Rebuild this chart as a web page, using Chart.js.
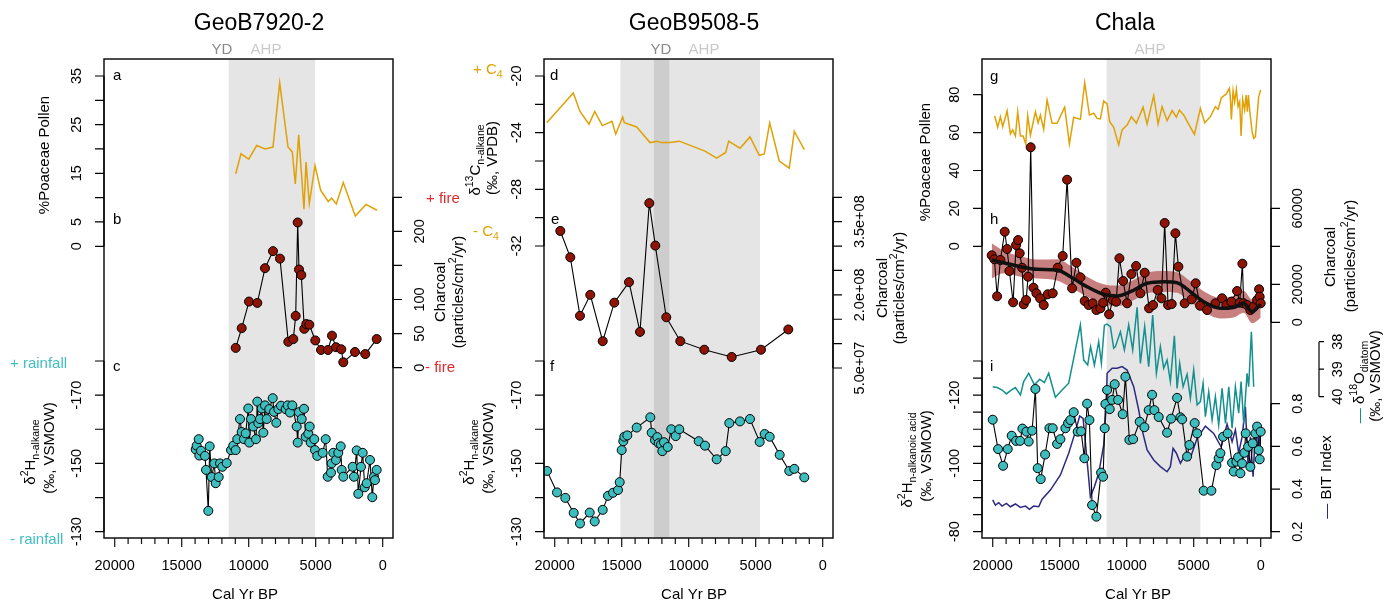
<!DOCTYPE html>
<html>
<head>
<meta charset="utf-8">
<script src="https://cdn.jsdelivr.net/npm/chart.js@4.4.1/dist/chart.umd.min.js"></script>
<style>
  body { margin: 0; background: #fff; }
  #wrap { position: relative; width: 1386px; height: 605px; }
  #wrap canvas { position: absolute; left: 0; top: 0; }
</style>
</head>
<body>
<div id="wrap">
  <canvas id="p1" width="1386" height="605"></canvas>
  <canvas id="p2" width="1386" height="605"></canvas>
  <canvas id="p3" width="1386" height="605"></canvas>
</div>
<script>
// ---- GeoB7920-2 ----
var ageA = [10970,10575,10000,9403,8784,8187,7687,7067,6746,6523,6269,5873,5724,5477,5052,4627,4060,3806,3463,2940,2045,1246,425];
var poaceaeA = [14.9,19.0,17.9,20.7,20.0,20.4,33.6,20.4,19.4,12.8,22.9,7.6,17.3,8.8,16.6,11.5,9.2,9.9,8.7,13.1,6.2,8.6,7.4];

var ageB = [10970,10523,9978,9358,8784,8187,7665,7045,6672,6493,6344,6246,6075,5851,5702,5477,5030,4605,4082,3784,3485,3090,2940,2067,1299,448];
var charcoalB = [29,58,97,95,146,171,160,38,42,76,213,144,136,57,64,63,40,26,26,47,30,27,8,23,20,42];

var ageC = [13956,13881,13732,13687,13560,13262,13187,13015,12911,12762,
  12568,12463,12239,12142,11970,11642,11321,11150,10970,10851,
  10650,10523,10351,10224,10030,9955,9828,9656,9455,9358,
  9284,9157,9030,8910,8784,8657,8463,8209,8112,7940,
  7791,7590,7239,7090,6918,6746,6418,6343,6246,6045,
  5873,5747,5552,5448,5373,5105,5052,4880,4478,4254,
  4105,3858,3806,3687,3485,3313,3134,3060,2940,2239,
  2142,1940,1821,1619,1493,1343,1194,948,776,649,
  575,448];
var d2hC = [-154.1,-155.2,-157.1,-152.3,-153.7,-152.2,-148.1,-136.1,-155,-146,
  -150,-144.2,-146,-150,-149,-150.1,-153.9,-155.2,-153.9,-157.1,
  -163,-159.2,-157.1,-158.8,-166.1,-156.1,-163,-160.8,-157.1,-168.1,
  -161.8,-163,-166.1,-159,-167,-163,-165.9,-169.1,-165.1,-161.9,
  -165.9,-166.9,-165.9,-167,-164.9,-167,-160.8,-156.1,-165,-163,
  -166,-157.8,-158.7,-160.8,-156.1,-157.1,-153.9,-152.2,-153.1,-157.1,
  -146.1,-147.3,-150,-153.1,-151,-153.1,-155,-148.1,-146.1,-149,
  -146.1,-153.8,-141.1,-149,-153.1,-143,-144.2,-151,-140.1,-146.1,
  -145.1,-148.1];

// ---- GeoB9508-5 ----
var ageD = [20598,18613,18113,17441,17016,16448,15724,15448,14926,14806,13881,12888,12344,12045,11396,10702,8784,7911,7239,7015,6172,5426,4731,4358,3955,3239,2493,2119,1373];
var d13cD = [-23.3,-21.2,-22.5,-23.4,-22.5,-23.5,-23.2,-24.1,-22.9,-23.3,-23.6,-24.7,-24.6,-24.7,-24.7,-24.6,-25.3,-25.8,-25.4,-24.6,-25.1,-24.3,-25.6,-25.5,-23.3,-26.0,-26.5,-23.9,-25.2];

var ageE = [19583,18837,18113,17345,16418,15553,14456,13635,12941,12493,11672,10627,8836,6791,4605,2567];
var charcoalE = [3.31e8,2.77e8,1.57e8,2.0e8,1.05e8,1.84e8,2.26e8,1.24e8,3.88e8,3.01e8,1.54e8,1.05e8,8.75e7,7.26e7,8.75e7,1.29e8];

var ageF = [20576,19829,19209,18583,18113,17389,17016,16418,16023,15650,
  15277,15150,15001,14881,14806,14582,13881,12866,12762,12516,
  12344,12239,12068,11970,11844,11567,11299,10970,10702,9254,
  8784,7911,7239,6970,6172,5426,4702,4329,3955,3209,
  2493,2119,1373];
var d2hF = [-147.8,-141.5,-139.9,-135.5,-132.4,-135.6,-133.0,-136.4,-140.5,-141.4,
  -142.2,-144.5,-153.9,-156.5,-157.8,-158.2,-160.5,-163.5,-159,-156.8,
  -157.7,-155.9,-155.5,-153.6,-156.2,-154.8,-160,-158,-160,-156.5,
  -155.2,-151.2,-153.6,-161.8,-162.3,-163,-156.3,-158.6,-157.8,-152.5,
  -147.8,-148.4,-145.9];

// ---- Chala ----
var ageG = [19852,19628,19426,19254,18926,18680,18508,18307,18135,17933,
  17732,17538,17389,17187,16814,16612,16441,16195,15941,15568,
  15195,14628,14277,13956,13456,13135,12784,12463,12209,11963,
  11717,11463,11269,10970,10598,10344,9970,9650,9277,8776,
  8478,7985,7657,7358,6985,6612,6291,6068,5747,5373,
  4948,4500,4180,3754,3381,3179,2933,2560,2336,2261,
  2187,2060,1940,1813,1687,1567,1463,1343,1194,1090,
  993,918,821,642,522,396,149,0];
var poaceaeG = [68.8,62.8,68.4,63.1,71.4,59.3,61.4,58.2,71,58.2,
  58.2,54,68.9,58.7,71,65.2,69.3,61.7,77.2,64.9,
  64.9,73.4,54,68.1,67,86.3,69.3,70.2,67.5,67.2,
  76.7,75.1,65.8,62.8,53.5,61.4,64,68.4,64.9,73.4,
  64.5,79.5,64.5,73.7,66.3,71.6,68.1,71.9,69.3,64.5,
  59.1,72.8,65.2,68.4,73.7,72.3,78.4,80.4,83.4,78.1,
  67,82.1,76.3,82.8,73.7,76.3,58.2,77.6,71.9,79.8,
  71,79.8,71.9,60.5,57,57.8,78.9,82.5];

var ageH = [20076,19874,19673,19426,19105,18926,18755,18478,18255,18105,
  17986,17806,17687,17508,17359,17165,16963,16739,16463,16195,
  15896,15523,15150,14777,14448,14075,13754,13456,13135,12836,
  12538,12262,11963,11762,11567,11314,11045,10792,10545,10269,
  9970,9650,9299,8978,8657,8329,8030,7687,7411,7165,
  6911,6642,6366,6142,5672,5149,4851,4522,4000,3381,
  2881,2560,2187,1761,1567,1366,1269,1015,769,522,
  269,119,75,0];
var charcoalH = [35260,33160,13680,32790,47680,38580,27000,10530,40680,43310,
  36310,28740,9470,11740,24000,92100,18210,15260,12630,9100,
  14740,15260,28740,34890,75050,17890,31370,23680,11210,9100,
  10000,6470,7370,10320,15580,4210,11740,10840,33680,21740,
  10000,25420,29630,15260,26100,7370,9100,17000,12630,52260,
  9100,9630,46840,29260,10000,12100,20530,8740,6470,10000,
  12630,9100,10840,16470,10320,30840,10000,9100,6470,8210,
  11740,17370,13470,10000];

var ageSmooth = [20076,19180,17933,16688,15195,14202,12956,11717,10717,9724,8478,7239,6239,5246,4254,3008,2015,1269,642,149,0];
var charcoalSmooth = [32790,31370,29260,27890,27530,24000,18740,14740,13840,16100,20530,21370,20840,16100,10840,7370,7800,10000,5580,8500,9500];
var bandHigh = [41600,37600,34700,33000,33200,29800,24000,20000,19300,21500,26000,27000,26300,21600,16400,13000,14000,16500,12000,16000,17000];
var bandLow = [23000,25800,24000,23000,22000,18500,13500,9500,8500,10800,15300,16000,15500,10700,5500,2000,2500,5000,-500,1500,2500];

var ageI = [20001,19600,19224,18881,18583,18255,17956,17784,17486,17314,
  17060,16814,16642,16418,16090,15769,15523,15195,14948,14575,
  14374,14202,13956,13657,13403,13157,12956,12784,12583,12262,
  11911,11762,11642,11590,11463,11269,11090,10896,10642,10299,
  10098,9799,9523,9030,8679,8358,8105,7933,7612,6985,
  6687,6239,5993,5866,5493,5321,4926,4746,4254,3679,
  3306,3134,3008,2806,2463,2134,2015,1813,1687,1515,
  1388,1216,1119,940,769,597,396,269,149,75,
  0];
var d2hI = [-112.8,-104.2,-99.3,-104.2,-108.1,-106.6,-106.6,-110.2,-109.3,-106.4,
  -109.6,-121.8,-98.6,-95.4,-102.6,-110.3,-110.3,-105.7,-107.1,-110.3,
  -111.8,-112.7,-115,-109.3,-109.4,-101.5,-117.5,-112.7,-87.8,-84.4,
  -97.3,-96.1,-110.3,-117.4,-121.5,-115.9,-118.6,-123.2,-118.6,-114.4,
  -125.4,-106.9,-107.1,-112.2,-110.6,-115.6,-120.1,-115.6,-113.6,-109,
  -113.1,-119.2,-113.5,-112.9,-102,-105.4,-111.8,-108.8,-92,-92,
  -99.5,-101.5,-103,-107.8,-108.8,-100.2,-97.6,-100.5,-101.8,-97.1,
  -100,-103.1,-108.8,-104.9,-99,-105.9,-108.8,-110.8,-103.9,-101.2,
  -109.3];

var ageBIT = [20001,19800,19552,19299,18979,18680,18307,17933,17560,17262,
  16941,16568,16314,15695,14948,14329,13829,13508,13254,13008,
  12710,12411,12090,11717,11515,11463,11090,10717,10344,9970,
  9478,9105,8851,8478,7985,7486,6985,6740,6538,6291,
  5993,5620,5299,4746,4127,3508,2955,2508,2134,1888,
  1642,1388,1142,940,769,567,396,224,75,0];
var bitIndex = [0.349,0.325,0.336,0.32,0.333,0.317,0.33,0.314,0.32,0.305,
  0.32,0.317,0.352,0.395,0.466,0.568,0.669,0.742,0.731,0.568,
  0.364,0.411,0.474,0.606,0.802,0.943,0.966,0.966,0.974,0.958,
  0.88,0.771,0.677,0.583,0.536,0.505,0.481,0.505,0.591,0.568,
  0.521,0.56,0.536,0.638,0.695,0.661,0.598,0.705,0.622,0.677,
  0.568,0.645,0.786,0.505,0.645,0.458,0.677,0.568,0.677,0.536];

var ageO = [20001,19673,19299,18979,18628,18307,17933,17687,17314,16888,
  16493,16143,15822,15322,14821,14329,13903,13456,13209,12911,
  12697,12411,12090,11889,11665,11463,11217,10971,10844,10471,
  10172,9851,9553,9224,8978,8657,8358,8060,7784,7486,
  7239,6985,6740,6441,6239,6045,5791,5493,5246,5000,
  4746,4500,4298,4127,3880,3627,3381,3134,2881,2627,
  2381,2134,1888,1642,1463,1269,1015,896,694,522];
var d18oDiatom = [39.64,39.67,39.76,39.9,39.76,39.67,39.94,39.45,39.15,39.57,
  39.37,39.49,39.15,40.02,39.76,39.51,38.48,37.39,38.67,38.85,
  38.18,38.85,38.0,38.79,37.4,37.36,37.45,38.24,38.18,37.64,
  38.3,37.39,38.3,36.75,38.79,37.45,38.91,37.03,39.15,38.18,
  38.97,38.67,39.45,37.79,39.7,38.79,39.64,39.19,40.06,39.03,
  40.3,40.18,39.51,40.73,39.82,40.85,40,41.03,39.7,40.97,
  39.64,41.15,39.64,40.6,39.45,40.97,39.15,39.64,37.64,39.64];

// periods (cal yr BP)
var ahp1 = [11500, 5050];
var ahp2 = [15100, 4680];
var yd2 = [12600, 11450];
var ahp3 = [11500, 4500];

// tick values
var ageTicks = [0,1000,2000,3000,4000,5000,6000,7000,8000,9000,10000,11000,12000,13000,14000,15000,16000,17000,18000,19000,20000];
var ageLabels = [20000,15000,10000,5000,0];
var poaceaeATicks = [0,5,10,15,20,25,30,35], poaceaeALabels = [35,25,15,5,0];
var charcoalBTicks = [0,50,100,150,200,250], charcoalBLabels = [200,100,50,0];
var d2hTicks = [-180,-170,-160,-150,-140,-130], d2hLabels = [-170,-150,-130];
var d13cTicks = [-32,-30,-28,-26,-24,-22,-20], d13cLabels = [-20,-24,-28,-32];
var charcoalETicks = [5e7,1e8,1.5e8,2e8,2.5e8,3e8,3.5e8,4e8], charcoalELabels = [5e7,2e8,3.5e8];
var poaceaeGTicks = [0,20,40,60,80], poaceaeGLabels = [80,60,40,20,0];
var charcoalHTicks = [0,20000,40000,60000], charcoalHLabels = [60000,20000,0];
var d2hITicks = [-130,-125,-120,-115,-110,-105,-100,-95,-90,-85,-80], d2hILabels = [-120,-100,-80];
var bitTicks = [0.2,0.4,0.6,0.8];
var d18oTicks = [38,39,40];

var FONT = '"Liberation Sans", Arial, Helvetica, sans-serif';
var ORANGE = '#e0a106', DARKRED = '#8e1405', TEALPT = '#3ebdbf', TEALLINE = '#14908f', NAVY = '#2c2a80';
var REDTXT = '#e02a2a', RAINTXT = '#42bec2';

function pts(xs, ys) { return xs.map(function (x, i) { return { x: x, y: ys[i] }; }); }

function lineSet(xs, ys, axis, color, width) {
  return { data: pts(xs, ys), yAxisID: axis, borderColor: color, borderWidth: width, pointRadius: 0, tension: 0, fill: false };
}
function dotSet(xs, ys, axis, fill) {
  return { data: pts(xs, ys), yAxisID: axis, borderColor: '#000', borderWidth: 1.1, pointRadius: 4.5,
    pointBackgroundColor: fill, pointBorderColor: '#000', pointBorderWidth: 1, tension: 0, fill: false };
}

function richText(ctx, t) {
  var size = t.s || 15;
  ctx.save();
  ctx.translate(t.x, t.y);
  if (t.rot) ctx.rotate(-Math.PI / 2);
  ctx.textBaseline = 'middle';
  ctx.textAlign = 'left';
  var total = 0;
  var widths = t.p.map(function (p) {
    ctx.font = (p[1] ? size * 0.7 : size) + 'px ' + FONT;
    var w = ctx.measureText(p[0]).width; total += w; return w;
  });
  var cx = t.al === 'left' ? 0 : (t.al === 'right' ? -total : -total / 2);
  t.p.forEach(function (p, i) {
    ctx.font = (p[1] ? size * 0.7 : size) + 'px ' + FONT;
    ctx.fillStyle = p[2] || t.c || '#000';
    var dy = p[1] === 'sup' ? -size * 0.38 : (p[1] === 'sub' ? size * 0.32 : 0);
    ctx.fillText(p[0], cx, dy);
    cx += widths[i];
  });
  ctx.restore();
}

function drawAxis(chart, ax) {
  var ctx = chart.ctx, s = chart.scales[ax.id], a = chart.chartArea;
  var x = (ax.side === 'left' ? a.left : a.right) + (ax.shift || 0);
  var dir = ax.side === 'left' ? -1 : 1;
  var len = ax.len || 9;
  var ys = ax.ticks.map(function (v) { return s.getPixelForValue(v); });
  ctx.save();
  ctx.strokeStyle = '#000';
  ctx.lineWidth = 1.2;
  ctx.beginPath();
  ctx.moveTo(x, Math.min.apply(null, ys));
  ctx.lineTo(x, Math.max.apply(null, ys));
  ys.forEach(function (y) { ctx.moveTo(x, y); ctx.lineTo(x + dir * len, y); });
  ctx.stroke();
  ctx.restore();
  ax.labels.forEach(function (v) {
    richText(ctx, { x: x + dir * (ax.off || 27), y: s.getPixelForValue(v), s: 14.5, rot: true,
      p: [[ax.fmt ? ax.fmt(v) : String(v)]] });
  });
}

var decorPlugin = {
  id: 'decor',
  beforeDatasetsDraw: function (chart) {
    var d = decor[chart.canvas.id], ctx = chart.ctx, a = chart.chartArea, sx = chart.scales.x;
    ctx.save();
    d.bands.forEach(function (b) {
      var x1 = sx.getPixelForValue(b[0][0]), x2 = sx.getPixelForValue(b[0][1]);
      ctx.fillStyle = b[1];
      ctx.fillRect(Math.min(x1, x2), a.top, Math.abs(x2 - x1), a.bottom - a.top);
    });
    ctx.restore();
  },
  afterDraw: function (chart) {
    var d = decor[chart.canvas.id], ctx = chart.ctx, a = chart.chartArea, sx = chart.scales.x;
    ctx.save();
    ctx.strokeStyle = '#111';
    ctx.lineWidth = 1.5;
    ctx.strokeRect(a.left, a.top, a.right - a.left, a.bottom - a.top);
    // x axis
    ctx.lineWidth = 1.2;
    ctx.beginPath();
    ageTicks.forEach(function (v) {
      var px = sx.getPixelForValue(v);
      ctx.moveTo(px, a.bottom);
      ctx.lineTo(px, a.bottom + (v % 5000 === 0 ? 9 : 6));
    });
    ctx.stroke();
    ctx.restore();
    ageLabels.forEach(function (v) {
      richText(ctx, { x: sx.getPixelForValue(v), y: a.bottom + 28, s: 14.5, p: [[String(v)]] });
    });
    d.axes.forEach(function (ax) { drawAxis(chart, ax); });
    d.texts.forEach(function (t) { richText(ctx, t); });
  }
};

var d2hParts = [['δ'], ['2', 'sup'], ['H'], ['n-alkane', 'sub']];
var partParts = [['(particles/cm'], ['2', 'sup'], ['/yr)']];

var decor = {
  p1: {
    bands: [[ahp1, '#e5e5e5']],
    axes: [
      { id: 'ya', side: 'left', ticks: poaceaeATicks, labels: poaceaeALabels },
      { id: 'yc', side: 'left', ticks: d2hTicks, labels: d2hLabels },
      { id: 'yb', side: 'right', ticks: charcoalBTicks, labels: charcoalBLabels }
    ],
    texts: [
      { x: 259, y: 24, s: 23, p: [['GeoB7920-2']] },
      { x: 222, y: 50, c: '#8a8a8a', p: [['YD']] },
      { x: 266, y: 50, c: '#c9c9c9', p: [['AHP']] },
      { x: 113, y: 76, al: 'left', p: [['a']] },
      { x: 113, y: 220, al: 'left', p: [['b']] },
      { x: 113, y: 367, al: 'left', p: [['c']] },
      { x: 45, y: 155, rot: true, p: [['%Poaceae Pollen']] },
      { x: 31, y: 452, rot: true, p: d2hParts },
      { x: 50, y: 448, rot: true, p: [['(‰, VSMOW)']] },
      { x: 10, y: 364, al: 'left', c: RAINTXT, p: [['+ rainfall']] },
      { x: 10, y: 540, al: 'left', c: RAINTXT, p: [['- rainfall']] },
      { x: 426, y: 199, al: 'left', c: REDTXT, p: [['+ fire']] },
      { x: 425, y: 368, al: 'left', c: REDTXT, p: [['- fire']] },
      { x: 441, y: 292, rot: true, p: [['Charcoal']] },
      { x: 459, y: 292, rot: true, p: partParts },
      { x: 245, y: 595, p: [['Cal Yr BP']] }
    ]
  },
  p2: {
    bands: [[ahp2, '#e5e5e5'], [yd2, '#cdcdcd']],
    axes: [
      { id: 'yd', side: 'left', ticks: d13cTicks, labels: d13cLabels },
      { id: 'yf', side: 'left', ticks: d2hTicks, labels: d2hLabels },
      { id: 'ye', side: 'right', ticks: charcoalETicks, labels: charcoalELabels,
        fmt: function (v) { return v.toExponential(1).replace('e+', 'e+0'); } }
    ],
    texts: [
      { x: 694, y: 24, s: 23, p: [['GeoB9508-5']] },
      { x: 661, y: 50, c: '#8a8a8a', p: [['YD']] },
      { x: 704, y: 50, c: '#c9c9c9', p: [['AHP']] },
      { x: 550, y: 76, al: 'left', p: [['d']] },
      { x: 551, y: 220, al: 'left', p: [['e']] },
      { x: 550, y: 367, al: 'left', p: [['f']] },
      { x: 473, y: 70, al: 'left', c: ORANGE, p: [['+ C'], ['4', 'sub']] },
      { x: 473, y: 232, al: 'left', c: ORANGE, p: [['- C'], ['4', 'sub']] },
      { x: 476, y: 160, rot: true, p: [['δ'], ['13', 'sup'], ['C'], ['n-alkane', 'sub']] },
      { x: 493, y: 158, rot: true, p: [['(‰, VPDB)']] },
      { x: 470, y: 452, rot: true, p: d2hParts },
      { x: 489, y: 448, rot: true, p: [['(‰, VSMOW)']] },
      { x: 883, y: 288, rot: true, p: [['Charcoal']] },
      { x: 900, y: 288, rot: true, p: partParts },
      { x: 694, y: 595, p: [['Cal Yr BP']] }
    ]
  },
  p3: {
    bands: [[ahp3, '#e5e5e5']],
    axes: [
      { id: 'yg', side: 'left', ticks: poaceaeGTicks, labels: poaceaeGLabels },
      { id: 'yi', side: 'left', ticks: d2hITicks, labels: d2hILabels },
      { id: 'yh', side: 'right', ticks: charcoalHTicks, labels: charcoalHLabels },
      { id: 'ybit', side: 'right', ticks: bitTicks, labels: bitTicks, fmt: function (v) { return v.toFixed(1); } },
      { id: 'yo', side: 'right', shift: 48, len: 5, off: 19, ticks: d18oTicks, labels: d18oTicks }
    ],
    texts: [
      { x: 1125, y: 24, s: 23, p: [['Chala']] },
      { x: 1150, y: 50, c: '#c9c9c9', p: [['AHP']] },
      { x: 990, y: 77, al: 'left', p: [['g']] },
      { x: 990, y: 220, al: 'left', p: [['h']] },
      { x: 990, y: 367, al: 'left', p: [['i']] },
      { x: 926, y: 162, rot: true, p: [['%Poaceae Pollen']] },
      { x: 908, y: 460, rot: true, p: [['δ'], ['2', 'sup'], ['H'], ['n-alkanoic acid', 'sub']] },
      { x: 927, y: 456, rot: true, p: [['(‰, VSMOW)']] },
      { x: 1331, y: 257, rot: true, p: [['Charcoal']] },
      { x: 1351, y: 256, rot: true, p: partParts },
      { x: 1327, y: 477, rot: true, p: [['— ', '', NAVY], ['BIT Index']] },
      { x: 1360, y: 382, rot: true, p: [['— ', '', TEALLINE], ['δ'], ['18', 'sup'], ['O'], ['diatom', 'sub']] },
      { x: 1376, y: 376, rot: true, p: [['(‰, VSMOW)']] },
      { x: 1138, y: 595, p: [['Cal Yr BP']] }
    ]
  }
};

function yAxis(min, max, reverse) {
  return { type: 'linear', display: false, min: min, max: max, reverse: !!reverse };
}

function makeChart(id, left, right, datasets, yScales) {
  var scales = { x: { type: 'linear', display: false, reverse: true, min: -770, max: 20800 } };
  Object.keys(yScales).forEach(function (k) { scales[k] = yScales[k]; });
  return new Chart(document.getElementById(id), {
    type: 'line',
    data: { datasets: datasets },
    options: {
      responsive: false,
      animation: false,
      events: [],
      layout: { padding: { left: left, right: 1386 - right, top: 59, bottom: 605 - 538 } },
      plugins: { legend: { display: false }, tooltip: { enabled: false } },
      scales: scales
    },
    plugins: [decorPlugin]
  });
}

makeChart('p1', 104, 393, [
  lineSet(ageA, poaceaeA, 'ya', ORANGE, 1.5),
  dotSet(ageB, charcoalB, 'yb', DARKRED),
  dotSet(ageC, d2hC, 'yc', TEALPT)
], {
  ya: yAxis(-59.95, 38.49),
  yb: yAxis(-249.9, 452.9),
  yc: yAxis(-268.46, -128.15, true)
});

makeChart('p2', 544, 833, [
  lineSet(ageD, d13cD, 'yd', ORANGE, 1.5),
  dotSet(ageE, charcoalE, 'ye', DARKRED),
  dotSet(ageF, d2hF, 'yf', TEALPT)
], {
  yd: yAxis(-52.61, -18.80),
  ye: yAxis(-2.986e8, 6.836e8),
  yf: yAxis(-268.46, -128.15, true)
});

var smoothSet = lineSet(ageSmooth, charcoalSmooth, 'yh', '#111', 3.5);
smoothSet.tension = 0.4; smoothSet.cubicInterpolationMode = 'monotone'; smoothSet.order = 1;
var bandTop = lineSet(ageSmooth, bandHigh, 'yh', 'rgba(0,0,0,0)', 0);
bandTop.tension = 0.4; bandTop.cubicInterpolationMode = 'monotone'; bandTop.order = 6;
var bandBottom = lineSet(ageSmooth, bandLow, 'yh', 'rgba(0,0,0,0)', 0);
bandBottom.tension = 0.4; bandBottom.cubicInterpolationMode = 'monotone'; bandBottom.order = 5;
bandBottom.fill = '-1'; bandBottom.backgroundColor = 'rgba(185,95,95,0.8)';
var dotsH = dotSet(ageH, charcoalH, 'yh', DARKRED); dotsH.order = 2;
var dotsI = dotSet(ageI, d2hI, 'yi', TEALPT); dotsI.order = 1;
var lineG = lineSet(ageG, poaceaeG, 'yg', ORANGE, 1.5); lineG.order = 4;
var lineBIT = lineSet(ageBIT, bitIndex, 'ybit', NAVY, 1.5); lineBIT.order = 4;
var lineO = lineSet(ageO, d18oDiatom, 'yo', TEALLINE, 1.5); lineO.order = 3;

makeChart('p3', 982, 1271, [
  lineG, bandTop, bandBottom, dotsH, smoothSet, lineBIT, lineO, dotsI
], {
  yg: yAxis(-153.9, 98.84),
  yh: yAxis(-113526, 138579),
  yi: yAxis(-218.46, -78.15, true),
  ybit: yAxis(0.1705, 2.416),
  yo: yAxis(27.72, 45.14, true)
});
</script>
</body>
</html>
